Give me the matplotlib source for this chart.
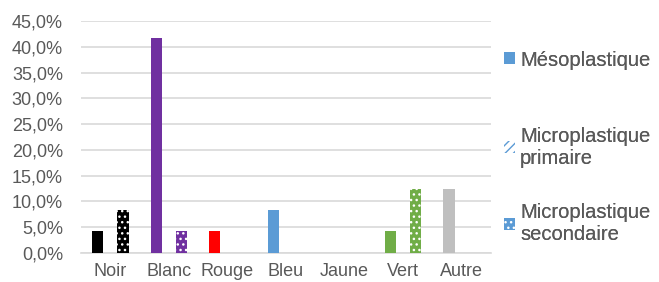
import matplotlib
matplotlib.use("Agg")
import matplotlib.pyplot as plt
from matplotlib.patches import Patch
from matplotlib.ticker import FuncFormatter
import numpy as np

plt.rcParams['font.family'] = ['Liberation Sans', 'DejaVu Sans']
plt.rcParams['hatch.linewidth'] = 1.0

categories = ["Noir", "Blanc", "Rouge", "Bleu", "Jaune", "Vert", "Autre"]
colors     = ["#000000", "#7030a0", "#ff0000", "#5b9bd5", "#ffc000", "#70ad47", "#bfbfbf"]

meso       = [4.2, 41.7, 4.2, 8.3, 0.0, 4.2, 12.5]
micro_prim = [0.0, 0.0, 0.0, 0.0, 0.0, 0.0, 0.0]
micro_sec  = [8.3, 4.2, 0.0, 0.0, 0.0, 12.5, 0.0]

series_names = ["Mésoplastique", "Microplastique\nprimaire", "Microplastique\nsecondaire"]

grey_txt = "#595959"
grid_col = "#d9d9d9"

fig = plt.figure(figsize=(6.59, 2.82), dpi=100)
ax = fig.add_axes([81/659, 1-253/282, 410/659, 232/282])

x = np.arange(len(categories))
slot = 0.218
w = 0.19

ax.bar(x - slot, meso, w, color=colors, linewidth=0, zorder=3)
ax.bar(x, micro_prim, w, color="white", edgecolor=colors, hatch="////", linewidth=0, zorder=3)
ax.bar(x + slot, micro_sec, w, color=colors, edgecolor="white", hatch="...", linewidth=0, zorder=3)

ax.set_xlim(-0.5, len(categories) - 0.5)
ax.set_ylim(0, 45)
ax.set_yticks(np.arange(0, 46, 5))
ax.yaxis.set_major_formatter(FuncFormatter(lambda v, p: f"{v:.1f}%".replace(".", ",")))
ax.set_xticks(x)
ax.set_xticklabels(categories)
ax.grid(axis="y", color=grid_col, linewidth=1.2, zorder=0)
for s in ["top", "right", "left"]:
    ax.spines[s].set_visible(False)
ax.spines["bottom"].set_color(grid_col)
ax.spines["bottom"].set_linewidth(1.2)
ax.tick_params(axis="both", length=0, labelsize=13, colors=grey_txt)
ax.tick_params(axis="y", pad=13)
ax.tick_params(axis="x", pad=7)

handles = [
    Patch(facecolor="#5b9bd5", linewidth=0),
    Patch(facecolor="white", edgecolor="#5b9bd5", hatch="////", linewidth=0),
    Patch(facecolor="#5b9bd5", edgecolor="white", hatch="...", linewidth=0),
]
ys = [60, 147, 224]
for h, name, yy in zip(handles, series_names, ys):
    leg = fig.legend([h], [name], loc="center left",
                     bbox_to_anchor=(504/659, 1 - yy/282),
                     frameon=False, fontsize=14.5, handlelength=0.55, handleheight=0.55,
                     handletextpad=0.25, borderpad=0, borderaxespad=0,
                     labelcolor=grey_txt)
    fig.add_artist(leg)

fig.savefig("out.png", dpi=100)
